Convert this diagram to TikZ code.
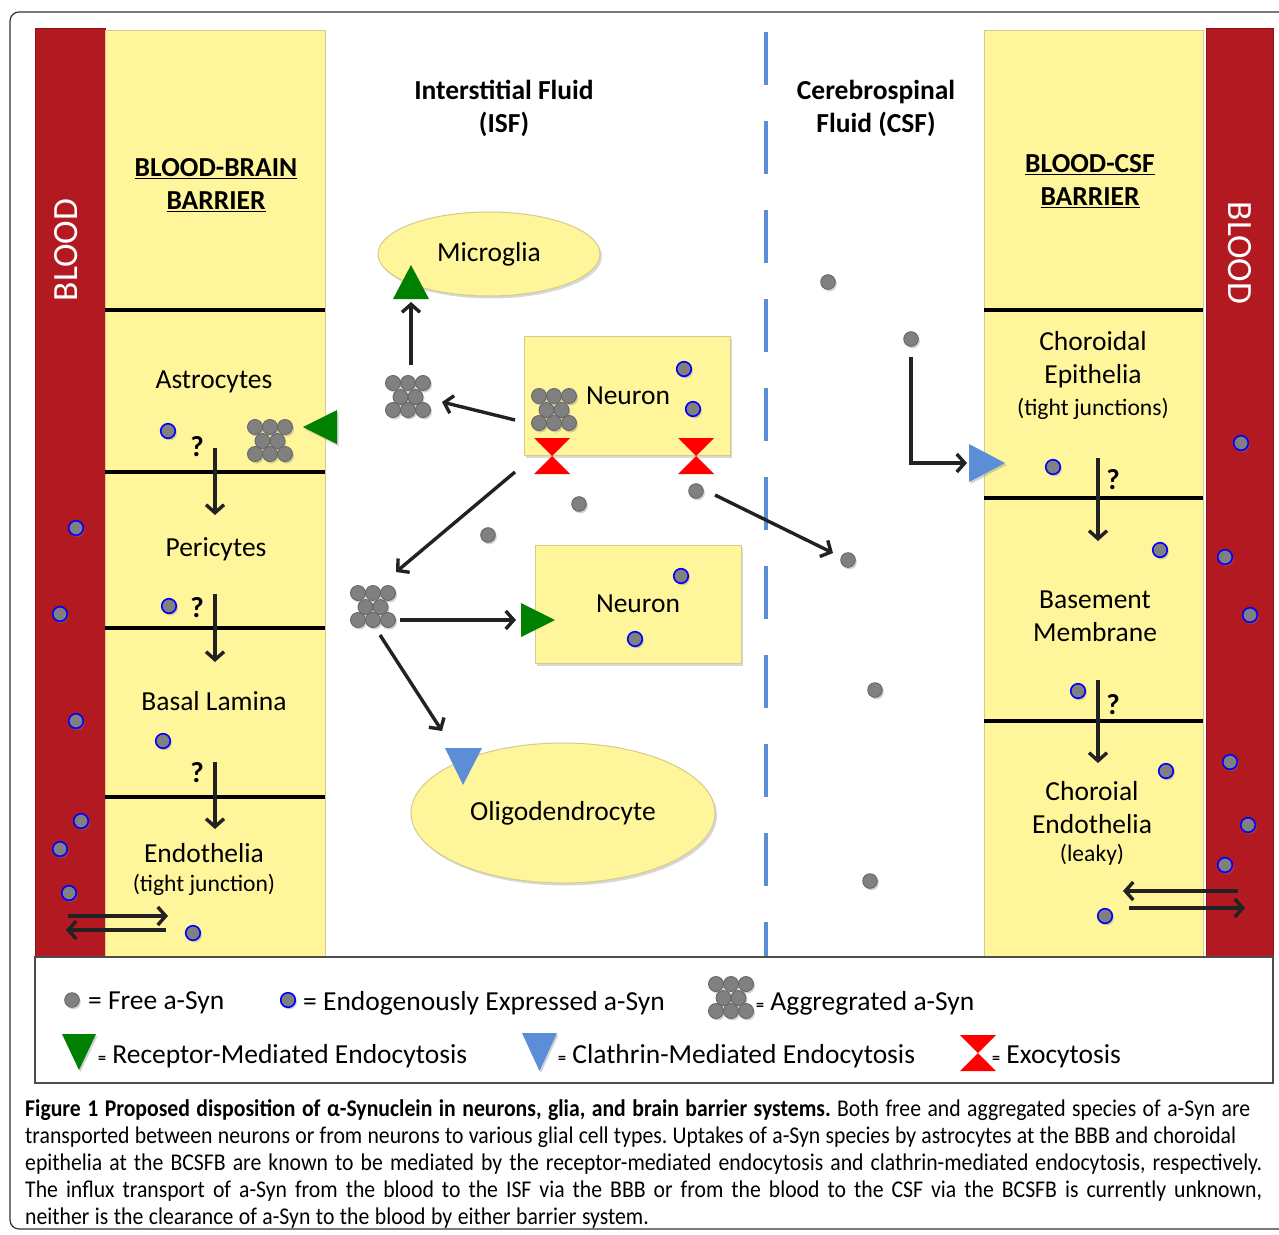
\documentclass[tikz,border=0pt]{standalone}
\usepackage{fontspec}
\setmainfont{Carlito}
\newfontfamily\capfont[FakeStretch=0.905]{Carlito}
\usetikzlibrary{arrows.meta,shadows,shapes.geometric}

\definecolor{bloodred}{RGB}{178,25,32}
\definecolor{cellyellow}{RGB}{255,245,154}
\definecolor{celledge}{RGB}{212,204,140}
\definecolor{rmegreen}{RGB}{0,128,0}
\definecolor{cmeblue}{RGB}{91,142,214}
\definecolor{dotgrey}{RGB}{128,128,128}
\definecolor{arrowdark}{RGB}{34,34,34}

\tikzset{
  lbl/.style={font=\fontsize{27.5}{33}\selectfont, align=center, inner sep=0pt},
  smalllbl/.style={font=\fontsize{23.6}{27}\selectfont, inner sep=0pt},
  hdr/.style={font=\bfseries\fontsize{27.5}{33}\selectfont, align=center, inner sep=0pt},
  qmark/.style={font=\bfseries\fontsize{29}{29}\selectfont, inner sep=0pt},
  bloodtxt/.style={font=\fontsize{35.5}{35.5}\selectfont, text=white, inner sep=0pt},
  lgd/.style={font=\fontsize{27.5}{30}\selectfont, inner sep=0pt, anchor=west},
  softshadow/.style={drop shadow={shadow xshift=2pt, shadow yshift=-2.5pt, opacity=0.3}},
  dotshadow/.style={drop shadow={shadow xshift=1.5pt, shadow yshift=-2pt, opacity=0.35}},
  freedot/.style={fill=dotgrey, draw=black!60, line width=0.9pt, dotshadow},
  endodot/.style={fill=dotgrey, draw=blue, line width=1.6pt, dotshadow},
  cellrect/.style={rectangle, fill=cellyellow, draw=celledge, line width=1pt, softshadow,
    font=\fontsize{27.5}{30}\selectfont, inner sep=0pt},
  cellell/.style={ellipse, fill=cellyellow, draw=celledge, line width=1pt, softshadow,
    font=\fontsize{27.5}{30}\selectfont, inner sep=0pt},
  column/.style={fill=cellyellow, draw=celledge, line width=1pt},
  bloodbar/.style={fill=bloodred, draw=bloodred!80!black, line width=0.8pt},
  sepline/.style={draw=black, line width=3.5pt},
  arr/.style={draw=arrowdark, line width=3.4pt, -{Straight Barb[length=8pt,width=18pt]}},
  barrdash/.style={draw=cmeblue, line width=4pt, dash pattern=on 53pt off 36pt},
  aggr/.pic={
    \foreach \dx/\dy in {-15/-13,0/-13,15/-13,-7.5/1,7.5/1,-15/14,0/14,15/14}
      \path[freedot] (\dx,\dy) circle[radius=7.5pt];
  },
  exo/.pic={
    \fill[red] (-18,-18) -- (18,-18) -- (0,0) -- cycle;
    \fill[red] (-18,18) -- (18,18) -- (0,0) -- cycle;
  },
}
\newcommand{\FreeDot}[1]{\path[freedot] (#1) circle[radius=7.3pt];}
\newcommand{\EndoDot}[1]{\path[endodot] (#1) circle[radius=7.3pt];}
\newcommand{\CapLine}[2]{\hbox to #1{\frenchspacing\spaceskip=0.21em plus 1fill\relax #2}}
\newcommand{\CapLast}[1]{\hbox{\frenchspacing\spaceskip=0.23em\relax #1}}

\begin{document}
\begin{tikzpicture}[x=1pt,y=-1pt]
\fill[white, use as bounding box] (0,0) rectangle (1279,1234);

% outer frame
\draw[black!80, line width=1.2pt, rounded corners=9pt] (10,12) rectangle (1300,1229);

% ===== columns =====
\path[bloodbar] (35,28) rectangle (105,957);
\path[column] (105,30) rectangle (325,957);
\path[column] (984,30) rectangle (1203,957);
\path[bloodbar] (1206,28) rectangle (1273,957);

\node[bloodtxt, rotate=90] (bloodL) at (66,250) {BLOOD};
\node[bloodtxt, rotate=-90] (bloodR) at (1240,253) {BLOOD};

% separator lines
\foreach \yy in {310,472,628,797} \draw[sepline] (105,\yy) -- (325,\yy);
\foreach \yy in {310,498,721} \draw[sepline] (984,\yy) -- (1203,\yy);

% dashed boundary ISF/CSF
\draw[barrdash] (766,32) -- (766,957);

% ===== headings =====
\node[hdr] (bbb) at (216,185) {\underline{BLOOD-BRAIN}\\\underline{BARRIER}};
\node[hdr] (isf) at (504,108) {Interstitial Fluid\\(ISF)};
\node[hdr] (csf) at (876,108) {Cerebrospinal\\Fluid (CSF)};
\node[hdr] (bcsfb) at (1090,181) {\underline{BLOOD-CSF}\\\underline{BARRIER}};

% ===== BBB layers =====
\node[lbl] (astro) at (214,382) {Astrocytes};
\node[lbl] (peri) at (216,549) {Pericytes};
\node[lbl] (basal) at (214,701) {Basal Lamina};
\node[lbl] (endo) at (204,853) {Endothelia};
\node[smalllbl] (endotj) at (204,885) {(tight junction)};

\node[qmark] (q1) at (197,447) {?};
\node[qmark] (q2) at (197,608) {?};
\node[qmark] (q3) at (197,773) {?};

\coordinate (b1s) at (215,448); \coordinate (b1e) at (215,515);
\coordinate (b2s) at (215,594); \coordinate (b2e) at (215,662);
\coordinate (b3s) at (215,762); \coordinate (b3e) at (215,829);
\draw[arr] (b1s) -- (b1e);
\draw[arr] (b2s) -- (b2e);
\draw[arr] (b3s) -- (b3e);

\coordinate (bx1s) at (68,916); \coordinate (bx1e) at (168,916);
\coordinate (bx2s) at (166,930); \coordinate (bx2e) at (66,930);
\draw[arr] (bx1s) -- (bx1e);
\draw[arr] (bx2s) -- (bx2e);

\EndoDot{168,431}
\EndoDot{169,606}
\EndoDot{163,741}
\EndoDot{193,933}
\EndoDot{76,528}
\EndoDot{60,614}
\EndoDot{76,721}
\EndoDot{81,821}
\EndoDot{60,849}
\EndoDot{69,893}

\pic at (270,440) {aggr};
\fill[rmegreen, dotshadow] (337,410) -- (337,444) -- (303,427) -- cycle;

% ===== ISF cells =====
\node[cellell, minimum width=222pt, minimum height=84pt] (microglia) at (489,254) {Microglia};
\node[cellrect, minimum width=206pt, minimum height=119pt] (neuron1) at (627,395.5) {\hspace*{2pt}Neuron};
\node[cellrect, minimum width=206pt, minimum height=118pt] (neuron2) at (638,604) {Neuron};
\node[cellell, minimum width=304pt, minimum height=140pt] (oligo) at (563,813) {Oligodendrocyte};

\pic at (554,409) {aggr};
\EndoDot{684,369}
\EndoDot{693,409}
\EndoDot{681,576}
\EndoDot{635,639}

\pic at (552,456) {exo};
\pic at (696,456) {exo};

\fill[rmegreen] (393,299) -- (429,299) -- (411,265) -- cycle;
\fill[rmegreen] (521,603) -- (521,637) -- (555,620) -- cycle;
\fill[cmeblue] (445,748) -- (482,748) -- (463,785) -- cycle;

\pic at (408,396) {aggr};
\pic at (373,606) {aggr};

\FreeDot{579,504}
\FreeDot{488,535}
\FreeDot{696,491}

\coordinate (m1s) at (411,365); \coordinate (m1e) at (411,302);
\coordinate (n1s) at (515,420); \coordinate (n1e) at (442,402);
\coordinate (n2s) at (515,472); \coordinate (n2e) at (396,572);
\coordinate (n3s) at (715,495); \coordinate (n3e) at (833,553);
\coordinate (g1s) at (400,620); \coordinate (g1e) at (516,620);
\coordinate (g2s) at (380,635); \coordinate (g2e) at (442,731);
\draw[arr] (m1s) -- (m1e);
\draw[arr] (n1s) -- (n1e);
\draw[arr] (n2s) -- (n2e);
\draw[arr] (n3s) -- (n3e);
\draw[arr] (g1s) -- (g1e);
\draw[arr] (g2s) -- (g2e);

% ===== CSF =====
\FreeDot{848,560}
\FreeDot{875,690}
\FreeDot{870,881}
\FreeDot{828,282}
\FreeDot{911,339}

\coordinate (c1s) at (911,357); \coordinate (c1e) at (967,463);
\draw[arr] (c1s) |- (c1e);
\fill[cmeblue, dotshadow] (969,444) -- (969,482) -- (1005,463) -- cycle;

% ===== BCSFB layers =====
\node[lbl] (chep) at (1093,359.5) {Choroidal\\Epithelia};
\node[smalllbl] (cheptj) at (1093,409) {(tight junctions)};
\node[lbl] (basem) at (1095,616.5) {Basement\\Membrane};
\node[lbl] (chend) at (1092,807.5) {Choroial\\Endothelia};
\node[smalllbl] (leaky) at (1092,855) {(leaky)};

\node[qmark] (q4) at (1113,480) {?};
\node[qmark] (q5) at (1113,705) {?};

\coordinate (r1s) at (1098,458); \coordinate (r1e) at (1098,541);
\coordinate (r2s) at (1098,680); \coordinate (r2e) at (1098,763);
\draw[arr] (r1s) -- (r1e);
\draw[arr] (r2s) -- (r2e);

\coordinate (rx1s) at (1238,891); \coordinate (rx1e) at (1123,891);
\coordinate (rx2s) at (1129,908); \coordinate (rx2e) at (1245,908);
\draw[arr] (rx1s) -- (rx1e);
\draw[arr] (rx2s) -- (rx2e);

\EndoDot{1053,467}
\EndoDot{1160,550}
\EndoDot{1078,691}
\EndoDot{1166,771}
\EndoDot{1105,916}
\EndoDot{1241,443}
\EndoDot{1225,557}
\EndoDot{1250,615}
\EndoDot{1230,762}
\EndoDot{1248,825}
\EndoDot{1225,865}

% ===== legend =====
\draw[fill=white, draw=black!70, line width=1.2pt] (35,957) rectangle (1273,1083);

\FreeDot{72,1000}
\node[lgd] (lg1) at (88,1003) {= Free a-Syn};
\EndoDot{288,1000}
\node[lgd] (lg2) at (303,1003) {= Endogenously Expressed a-Syn};
\pic at (731,997) {aggr};
\node[lgd] (lg3) at (756,1003) {{\bfseries\fontsize{16}{16}\selectfont=} Aggregrated a-Syn};

\fill[rmegreen, dotshadow] (62,1034) -- (96,1034) -- (79,1070) -- cycle;
\node[lgd] (lg4) at (98,1056) {{\bfseries\fontsize{16}{16}\selectfont=} Receptor-Mediated Endocytosis};
\fill[cmeblue, dotshadow] (522,1033) -- (557,1033) -- (539.5,1071) -- cycle;
\node[lgd] (lg5) at (558,1056) {{\bfseries\fontsize{16}{16}\selectfont=} Clathrin-Mediated Endocytosis};
\pic at (978,1053) {exo};
\node[lgd] (lg6) at (992,1056) {{\bfseries\fontsize{16}{16}\selectfont=} Exocytosis};

% ===== caption =====
\node[anchor=north west, inner sep=0pt, align=left,
      font=\capfont\fontsize{24}{27}\selectfont] (caption) at (25,1099) {%
\CapLine{1225pt}{{\bfseries Figure 1 Proposed disposition of α-Synuclein in neurons, glia, and brain barrier systems.} Both free and aggregated species of a-Syn are}\\
\CapLine{1211pt}{transported between neurons or from neurons to various glial cell types. Uptakes of a-Syn species by astrocytes at the BBB and choroidal}\\
\CapLine{1237pt}{epithelia at the BCSFB are known to be mediated by the receptor-mediated endocytosis and clathrin-mediated endocytosis, respectively.}\\
\CapLine{1237pt}{The influx transport of a-Syn from the blood to the ISF via the BBB or from the blood to the CSF via the BCSFB is currently unknown,}\\
\CapLast{neither is the clearance of a-Syn to the blood by either barrier system.}};
\end{tikzpicture}
\end{document}
